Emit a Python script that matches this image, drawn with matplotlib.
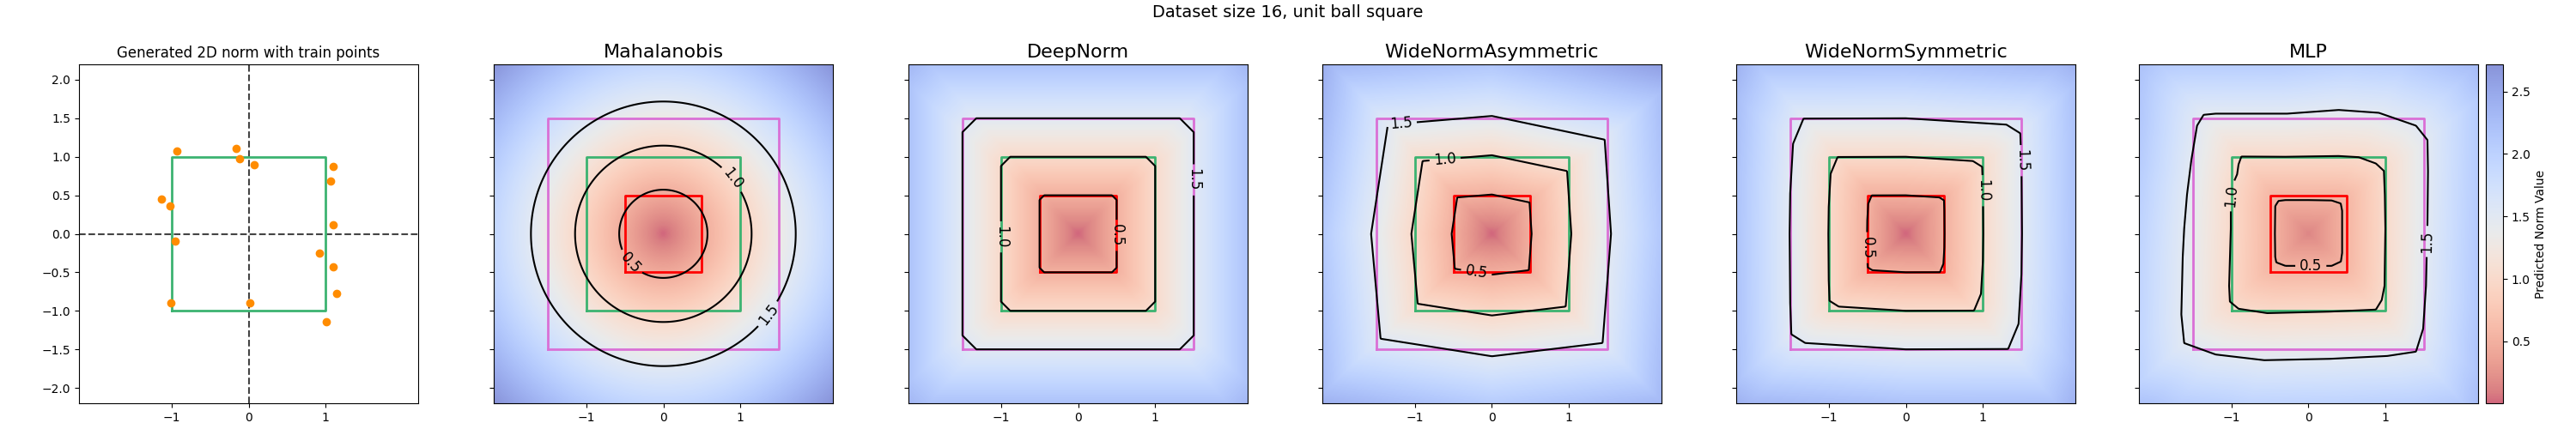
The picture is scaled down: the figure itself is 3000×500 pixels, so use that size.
import numpy as np
import matplotlib.pyplot as plt

# ---------------- data ----------------
train_x = [-0.93, -0.163, -0.119, 0.071, 1.096, 1.063, -1.134, -1.022,
           1.096, -0.955, 0.918, 1.096, 1.145, -1.004, 0.011, 1.004]
train_y = [1.075, 1.105, 0.97, 0.892, 0.869, 0.69, 0.455, 0.366,
           0.119, -0.093, -0.25, -0.429, -0.776, -0.899, -0.899, -1.146]

box_half = [0.5, 1.0, 1.5]
box_colors = ['red', 'mediumseagreen', 'orchid']
levels = [0.5, 1.0, 1.5]

titles = ['Mahalanobis', 'DeepNorm', 'WideNormAsymmetric', 'WideNormSymmetric', 'MLP']

# Mahalanobis: circular, level 1 at radius ~1.145
maha_scale = 1.145
# DeepNorm: square with chamfered corners
deep_chamfer = 1.88
# WideNormAsymmetric unit ball vertices
wide_asym_ball = [(1.03, 0.0), (0.975, 0.815), (0.0, 1.02), (-0.90, 0.945),
                  (-1.045, 0.0), (-0.963, -0.908), (0.0, -1.06), (0.957, -0.945)]
# WideNormSymmetric unit ball, upper half (lower half is the mirror -x)
wide_sym_half = [(1.005, 0.0), (1.0, 0.6), (0.99, 0.87), (0.87, 0.945), (0.0, 1.0),
                 (-0.885, 0.997), (-0.975, 0.78), (-1.0, 0.35)]
# MLP contour points per level (counter-clockwise)
mlp_center = 0.15
mlp_05 = [(0.436, 0.0), (0.436, 0.30), (0.418, 0.394), (0.30, 0.433), (0.0, 0.438),
          (-0.30, 0.438), (-0.39, 0.427), (-0.432, 0.36), (-0.436, 0.0), (-0.432, -0.30),
          (-0.418, -0.371), (-0.30, -0.416), (0.0, -0.416), (0.30, -0.416), (0.42, -0.36),
          (0.436, -0.25)]
mlp_10 = [(0.997, 0.067), (0.99, 0.5), (0.978, 0.817), (0.874, 0.913), (0.65, 0.995),
          (0.39, 1.01), (-0.3, 1.0), (-0.871, 1.003), (-0.908, 0.90), (-0.926, 0.772),
          (-0.975, 0.66), (-1.008, 0.438), (-1.008, 0.067), (-1.03, -0.676), (-1.02, -0.88),
          (-0.908, -0.973), (-0.537, -1.03), (0.28, -1.01), (0.874, -0.984), (0.95, -0.86),
          (0.986, -0.676)]
mlp_15 = [(1.543, 0.141), (1.55, 0.81), (1.543, 1.218), (1.394, 1.404), (0.912, 1.571),
          (0.392, 1.608), (-0.277, 1.56), (-1.205, 1.56), (-1.361, 1.545), (-1.446, 1.404),
          (-1.52, 0.958), (-1.576, 0.512), (-1.613, 0.067), (-1.632, -0.304), (-1.65, -1.047),
          (-1.613, -1.419), (-1.205, -1.567), (-0.574, -1.641), (0.28, -1.623), (1.023, -1.586),
          (1.394, -1.53), (1.487, -1.233), (1.524, -0.676)]

# where the contour labels sit (0.5, 1.0, 1.5)
label_pos = [
    [(-0.41, -0.36), (0.90, 0.717), (1.365, -1.047)],
    [(0.494, -0.02), (-1.0, -0.04), (1.497, 0.70)],
    [(-0.2, -0.49), (-0.61, 0.99), (-1.18, 1.47)],
    [(-0.48, -0.18), (1.02, 0.56), (1.5, 0.95)],
    [(0.03, -0.41), (-0.98, 0.49), (1.56, -0.10)],
]

# ---------------- fields ----------------
g = np.linspace(-2.2, 2.2, 440)
X, Y = np.meshgrid(g, g)


def gauge(ball):
    v = np.array(ball)
    w = np.roll(v, -1, axis=0)
    out = np.full(X.shape, -np.inf)
    for p, q in zip(v, w):
        a = np.linalg.solve(np.array([p, q]), [1.0, 1.0])
        out = np.maximum(out, a[0] * X + a[1] * Y)
    return out


def ray_radius(pts):
    # distance from the origin to the polygon along each pixel's ray
    v = np.array(pts)
    w = np.roll(v, -1, axis=0)
    dx, dy = np.cos(T), np.sin(T)
    out = np.full(X.shape, np.nan)
    for p, q in zip(v, w):
        ex, ey = q - p
        den = dx * ey - dy * ex
        with np.errstate(divide='ignore', invalid='ignore'):
            s = (p[0] * ey - p[1] * ex) / den
            t = (p[0] * dy - p[1] * dx) / den
        ok = (t >= 0) & (t <= 1) & (s > 0) & np.isnan(out)
        out[ok] = s[ok]
    return out


R = np.hypot(X, Y)
T = np.arctan2(Y, X)

z_maha = R / maha_scale
z_deep = np.maximum(np.maximum(np.abs(X), np.abs(Y)), (np.abs(X) + np.abs(Y)) / deep_chamfer)
z_asym = gauge(wide_asym_ball)
z_sym = gauge(wide_sym_half + [(-a, -b) for a, b in wide_sym_half])
r05 = ray_radius(mlp_05)
r10 = ray_radius(mlp_10)
r15 = ray_radius(mlp_15)
z_mlp = np.where(R < r05, mlp_center + (0.5 - mlp_center) * R / r05,
                 np.where(R < r10, 0.5 + 0.5 * (R - r05) / (r10 - r05),
                          1.0 + 0.5 * (R - r10) / (r15 - r10)))
fields = [z_maha, z_deep, z_asym, z_sym, z_mlp]
vmin = min(f.min() for f in fields)
vmax = max(f.max() for f in fields)

# ---------------- plot ----------------
fig = plt.figure(figsize=(30, 5), dpi=100)
lefts = [0.03067, 0.19167, 0.35267, 0.51333, 0.674, 0.83033]
bottom, w, h = 0.06, 0.13167, 0.79
ticks_y = np.arange(-2.0, 2.01, 0.5)


def square(ax, s, c, **kw):
    ax.plot([-s, s, s, -s, -s], [-s, -s, s, s, -s], color=c, lw=2, **kw)


ax0 = fig.add_axes([lefts[0], bottom, w, h])
ax0.axhline(0, color='#444444', ls='--', lw=1.5)
ax0.axvline(0, color='#444444', ls='--', lw=1.5)
square(ax0, 1.0, 'mediumseagreen')
ax0.scatter(train_x, train_y, color='darkorange', zorder=3)
ax0.set_xlim(-2.2, 2.2)
ax0.set_ylim(-2.2, 2.2)
ax0.set_xticks([-1, 0, 1])
ax0.set_yticks(ticks_y)
ax0.set_title('Generated 2D norm with train points', fontsize=12)

for i, (z, name) in enumerate(zip(fields, titles)):
    ax = fig.add_axes([lefts[i + 1], bottom, w, h])
    im = ax.imshow(z, extent=[-2.2, 2.2, -2.2, 2.2], origin='lower', cmap='coolwarm_r',
                   alpha=0.6, vmin=vmin, vmax=vmax)
    for s, c in zip(box_half, box_colors):
        square(ax, s, c)
    cs = ax.contour(X, Y, z, levels=levels, colors='k', linewidths=1.5)
    ax.clabel(cs, fmt='%1.1f', fontsize=12, manual=label_pos[i], inline=True)
    ax.set_xlim(-2.2, 2.2)
    ax.set_ylim(-2.2, 2.2)
    ax.set_xticks([-1, 0, 1])
    ax.set_yticks(ticks_y)
    ax.set_yticklabels([])
    ax.set_title(name, fontsize=16)

cax = fig.add_axes([0.965, bottom, 0.00667, h])
fig.colorbar(im, cax=cax, label='Predicted Norm Value')

fig.suptitle('Dataset size 16, unit ball square', fontsize=14, y=0.99)
fig.savefig('out.png')
